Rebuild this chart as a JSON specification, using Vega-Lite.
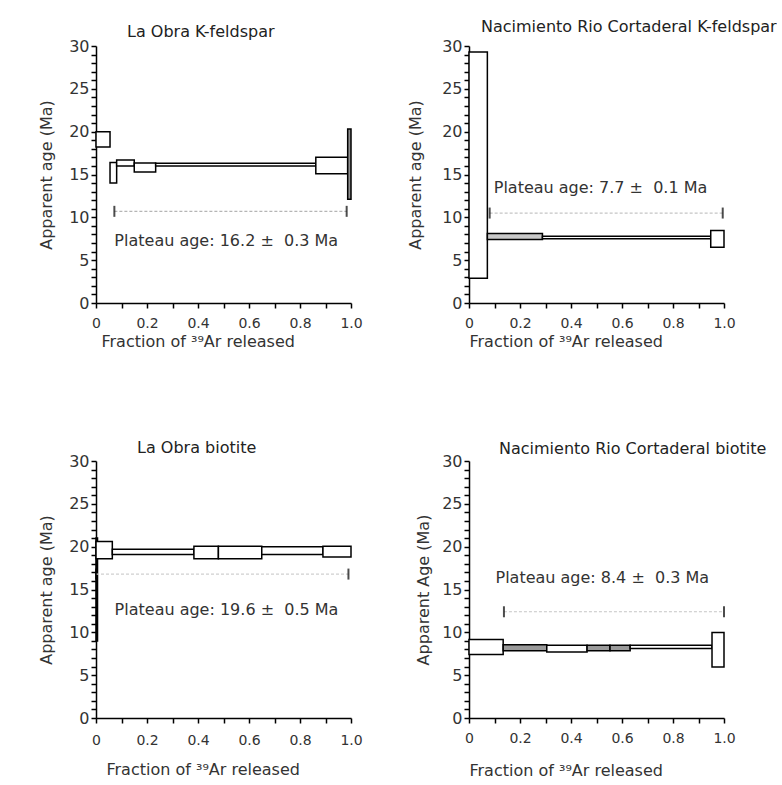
{
  "$schema": "https://vega.github.io/schema/vega-lite/v6.json",
  "padding": {"left": 38, "top": 19, "right": 0, "bottom": 0},
  "background": "white",
  "datasets": {
    "steps": [
      {"panel": "A", "f0": 0.0, "f1": 0.055, "lo": 18.2, "hi": 20.0, "shade": "open"},
      {"panel": "A", "f0": 0.055, "f1": 0.081, "lo": 14.0, "hi": 16.4, "shade": "open"},
      {"panel": "A", "f0": 0.081, "f1": 0.15, "lo": 16.0, "hi": 16.7, "shade": "open"},
      {"panel": "A", "f0": 0.15, "f1": 0.234, "lo": 15.3, "hi": 16.35, "shade": "open"},
      {"panel": "A", "f0": 0.234, "f1": 0.862, "lo": 16.0, "hi": 16.3, "shade": "open"},
      {"panel": "A", "f0": 0.862, "f1": 0.987, "lo": 15.1, "hi": 17.0, "shade": "open"},
      {"panel": "A", "f0": 0.987, "f1": 1.0, "lo": 12.1, "hi": 20.3, "shade": "shaded"},
      {"panel": "B", "f0": 0.0, "f1": 0.072, "lo": 2.9, "hi": 29.3, "shade": "open"},
      {"panel": "B", "f0": 0.072, "f1": 0.288, "lo": 7.4, "hi": 8.1, "shade": "shaded"},
      {"panel": "B", "f0": 0.288, "f1": 0.948, "lo": 7.5, "hi": 7.8, "shade": "open"},
      {"panel": "B", "f0": 0.948, "f1": 1.0, "lo": 6.5, "hi": 8.45, "shade": "open"},
      {"panel": "C", "f0": 0.0, "f1": 0.006, "lo": 9.0, "hi": 21.0, "shade": "shaded"},
      {"panel": "C", "f0": 0.0, "f1": 0.064, "lo": 18.6, "hi": 20.6, "shade": "open"},
      {"panel": "C", "f0": 0.064, "f1": 0.384, "lo": 19.1, "hi": 19.7, "shade": "open"},
      {"panel": "C", "f0": 0.384, "f1": 0.48, "lo": 18.6, "hi": 20.05, "shade": "open"},
      {"panel": "C", "f0": 0.48, "f1": 0.65, "lo": 18.6, "hi": 20.05, "shade": "open"},
      {"panel": "C", "f0": 0.65, "f1": 0.89, "lo": 19.1, "hi": 20.0, "shade": "open"},
      {"panel": "C", "f0": 0.89, "f1": 1.0, "lo": 18.8, "hi": 20.05, "shade": "open"},
      {"panel": "D", "f0": 0.0, "f1": 0.134, "lo": 7.4, "hi": 9.15, "shade": "open"},
      {"panel": "D", "f0": 0.134, "f1": 0.305, "lo": 7.85, "hi": 8.55, "shade": "shaded"},
      {"panel": "D", "f0": 0.305, "f1": 0.463, "lo": 7.7, "hi": 8.5, "shade": "open"},
      {"panel": "D", "f0": 0.463, "f1": 0.553, "lo": 7.85, "hi": 8.5, "shade": "shaded"},
      {"panel": "D", "f0": 0.553, "f1": 0.632, "lo": 7.85, "hi": 8.5, "shade": "shaded"},
      {"panel": "D", "f0": 0.632, "f1": 0.953, "lo": 8.1, "hi": 8.5, "shade": "open"},
      {"panel": "D", "f0": 0.953, "f1": 1.0, "lo": 5.96, "hi": 9.97, "shade": "open"}
    ],
    "plateaus": [
      {"panel": "A", "x0": 0.072, "x1": 0.983, "age": 10.7, "label": "Plateau age: 16.2 ± \u00a00.3 Ma", "lx": 0.072, "ly": 7.2},
      {"panel": "B", "x0": 0.081, "x1": 0.995, "age": 10.5, "label": "Plateau age: 7.7 ± \u00a00.1 Ma", "lx": 0.097, "ly": 13.4},
      {"panel": "C", "x0": 0.0, "x1": 0.99, "age": 16.8, "label": "Plateau age: 19.6 ± \u00a00.5 Ma", "lx": 0.073, "ly": 12.6},
      {"panel": "D", "x0": 0.137, "x1": 1.0, "age": 12.4, "label": "Plateau age: 8.4 ± \u00a00.3 Ma", "lx": 0.104, "ly": 16.3}
    ]
  },
  "columns": 2,
  "bounds": "flush",
  "spacing": {"row": 158, "column": 118},
  "concat": [
    {
      "width": 255, "height": 257,
      "title": {"text": "La Obra K-feldspar", "dx": 31, "offset": -2},
      "layer": [
        {
          "data": {"name": "steps"},
          "transform": [{"filter": "datum.panel === 'A'"}],
          "mark": {"type": "rect", "stroke": "black", "strokeWidth": 1.5},
          "encoding": {
            "x": {"field": "f0", "type": "quantitative", "scale": {"domain": [0, 1], "nice": false},
              "axis": {"title": "Fraction of ³⁹Ar released", "values": [0, 0.1, 0.2, 0.3, 0.4, 0.5, 0.6, 0.7, 0.8, 0.9, 1.0], "tickCount": 50,
                "labelExpr": "datum.value === 0 ? '0' : (round(datum.value*10) % 2 === 0 ? format(datum.value, '.1f') : '')",
                "labelOverlap": false, "labelFlush": false, "labelPadding": 8, "titleAnchor": "start", "titleX": 5, "titleAlign": "left", "titlePadding": 3}},
            "x2": {"field": "f1"},
            "y": {"field": "lo", "type": "quantitative", "scale": {"domain": [0, 30], "nice": false},
              "axis": {"title": "Apparent age (Ma)", "values": [0,1,2,3,4,5,6,7,8,9,10,11,12,13,14,15,16,17,18,19,20,21,22,23,24,25,26,27,28,29,30], "tickCount": 100,
                "labelExpr": "datum.value % 5 === 0 ? format(datum.value, 'd') : ''",
                "labelOverlap": false, "labelFlush": false, "labelPadding": 2, "titlePadding": 14}},
            "y2": {"field": "hi"},
            "fill": {"field": "shade", "type": "nominal", "scale": {"domain": ["open", "shaded"], "range": ["white", "#8f8f8f"]}, "legend": null}
          }
        },
        {
          "data": {"name": "plateaus"},
          "transform": [{"filter": "datum.panel === 'A'"}],
          "mark": {"type": "rule", "color": "#b5b5b5", "strokeWidth": 1.2, "strokeDash": [3, 2]},
          "encoding": {"x": {"field": "x0", "type": "quantitative"}, "x2": {"field": "x1"}, "y": {"field": "age", "type": "quantitative"}}
        },
        {
          "data": {"name": "plateaus"},
          "transform": [{"filter": "datum.panel === 'A'"}, {"fold": ["x0", "x1"], "as": ["end", "xe"]}],
          "mark": {"type": "tick", "orient": "vertical", "color": "black", "size": 11, "thickness": 2},
          "encoding": {"x": {"field": "xe", "type": "quantitative"}, "y": {"field": "age", "type": "quantitative"}}
        },
        {
          "data": {"name": "plateaus"},
          "transform": [{"filter": "datum.panel === 'A'"}],
          "mark": {"type": "text", "align": "left", "baseline": "middle", "fontSize": 16, "color": "#333"},
          "encoding": {"x": {"field": "lx", "type": "quantitative"}, "y": {"field": "ly", "type": "quantitative"}, "text": {"field": "label"}}
        }
      ]
    },
    {
      "width": 255, "height": 257,
      "title": {"text": "Nacimiento Rio Cortaderal K-feldspar", "dx": 12, "offset": 3},
      "layer": [
        {
          "data": {"name": "steps"},
          "transform": [{"filter": "datum.panel === 'B'"}],
          "mark": {"type": "rect", "stroke": "black", "strokeWidth": 1.5},
          "encoding": {
            "x": {"field": "f0", "type": "quantitative", "scale": {"domain": [0, 1], "nice": false},
              "axis": {"title": "Fraction of ³⁹Ar released", "values": [0, 0.1, 0.2, 0.3, 0.4, 0.5, 0.6, 0.7, 0.8, 0.9, 1.0], "tickCount": 50,
                "labelExpr": "datum.value === 0 ? '0' : (round(datum.value*10) % 2 === 0 ? format(datum.value, '.1f') : '')",
                "labelOverlap": false, "labelFlush": false, "labelPadding": 8, "titleAnchor": "start", "titleX": 0, "titleAlign": "left", "titlePadding": 3}},
            "x2": {"field": "f1"},
            "y": {"field": "lo", "type": "quantitative", "scale": {"domain": [0, 30], "nice": false},
              "axis": {"title": "Apparent age (Ma)", "values": [0,1,2,3,4,5,6,7,8,9,10,11,12,13,14,15,16,17,18,19,20,21,22,23,24,25,26,27,28,29,30], "tickCount": 100,
                "labelExpr": "datum.value % 5 === 0 ? format(datum.value, 'd') : ''",
                "labelOverlap": false, "labelFlush": false, "labelPadding": 2, "titlePadding": 18}},
            "y2": {"field": "hi"},
            "fill": {"field": "shade", "type": "nominal", "scale": {"domain": ["open", "shaded"], "range": ["white", "#c8c8c8"]}, "legend": null}
          }
        },
        {
          "data": {"name": "plateaus"},
          "transform": [{"filter": "datum.panel === 'B'"}],
          "mark": {"type": "rule", "color": "#c5c5c5", "strokeWidth": 1.2, "strokeDash": [3, 2]},
          "encoding": {"x": {"field": "x0", "type": "quantitative"}, "x2": {"field": "x1"}, "y": {"field": "age", "type": "quantitative"}}
        },
        {
          "data": {"name": "plateaus"},
          "transform": [{"filter": "datum.panel === 'B'"}, {"fold": ["x0", "x1"], "as": ["end", "xe"]}],
          "mark": {"type": "tick", "orient": "vertical", "color": "black", "size": 11, "thickness": 2},
          "encoding": {"x": {"field": "xe", "type": "quantitative"}, "y": {"field": "age", "type": "quantitative"}}
        },
        {
          "data": {"name": "plateaus"},
          "transform": [{"filter": "datum.panel === 'B'"}],
          "mark": {"type": "text", "align": "left", "baseline": "middle", "fontSize": 16, "color": "#333"},
          "encoding": {"x": {"field": "lx", "type": "quantitative"}, "y": {"field": "ly", "type": "quantitative"}, "text": {"field": "label"}}
        }
      ]
    },
    {
      "width": 255, "height": 257,
      "title": {"text": "La Obra biotite", "dx": 41, "offset": -3},
      "layer": [
        {
          "data": {"name": "steps"},
          "transform": [{"filter": "datum.panel === 'C'"}],
          "mark": {"type": "rect", "stroke": "black", "strokeWidth": 1.5},
          "encoding": {
            "x": {"field": "f0", "type": "quantitative", "scale": {"domain": [0, 1], "nice": false},
              "axis": {"title": "Fraction of ³⁹Ar released", "values": [0, 0.1, 0.2, 0.3, 0.4, 0.5, 0.6, 0.7, 0.8, 0.9, 1.0], "tickCount": 50,
                "labelExpr": "datum.value === 0 ? '0' : (round(datum.value*10) % 2 === 0 ? format(datum.value, '.1f') : '')",
                "labelOverlap": false, "labelFlush": false, "labelPadding": 10, "titleAnchor": "start", "titleX": 10, "titleAlign": "left", "titlePadding": 14}},
            "x2": {"field": "f1"},
            "y": {"field": "lo", "type": "quantitative", "scale": {"domain": [0, 30], "nice": false},
              "axis": {"title": "Apparent age (Ma)", "values": [0,1,2,3,4,5,6,7,8,9,10,11,12,13,14,15,16,17,18,19,20,21,22,23,24,25,26,27,28,29,30], "tickCount": 100,
                "labelExpr": "datum.value % 5 === 0 ? format(datum.value, 'd') : ''",
                "labelOverlap": false, "labelFlush": false, "labelPadding": 2, "titlePadding": 14}},
            "y2": {"field": "hi"},
            "fill": {"field": "shade", "type": "nominal", "scale": {"domain": ["open", "shaded"], "range": ["white", "#000000"]}, "legend": null}
          }
        },
        {
          "data": {"name": "plateaus"},
          "transform": [{"filter": "datum.panel === 'C'"}],
          "mark": {"type": "rule", "color": "#d0d0d0", "strokeWidth": 1.2, "strokeDash": [3, 2]},
          "encoding": {"x": {"field": "x0", "type": "quantitative"}, "x2": {"field": "x1"}, "y": {"field": "age", "type": "quantitative"}}
        },
        {
          "data": {"name": "plateaus"},
          "transform": [{"filter": "datum.panel === 'C'"}, {"fold": ["x0", "x1"], "as": ["end", "xe"]}],
          "mark": {"type": "tick", "orient": "vertical", "color": "black", "size": 11, "thickness": 2},
          "encoding": {"x": {"field": "xe", "type": "quantitative"}, "y": {"field": "age", "type": "quantitative"}}
        },
        {
          "data": {"name": "plateaus"},
          "transform": [{"filter": "datum.panel === 'C'"}],
          "mark": {"type": "text", "align": "left", "baseline": "middle", "fontSize": 16, "color": "#333"},
          "encoding": {"x": {"field": "lx", "type": "quantitative"}, "y": {"field": "ly", "type": "quantitative"}, "text": {"field": "label"}}
        }
      ]
    },
    {
      "width": 255, "height": 257,
      "title": {"text": "Nacimiento Rio Cortaderal biotite", "dx": 30, "offset": -4},
      "layer": [
        {
          "data": {"name": "steps"},
          "transform": [{"filter": "datum.panel === 'D'"}],
          "mark": {"type": "rect", "stroke": "black", "strokeWidth": 1.5},
          "encoding": {
            "x": {"field": "f0", "type": "quantitative", "scale": {"domain": [0, 1], "nice": false},
              "axis": {"title": "Fraction of ³⁹Ar released", "values": [0, 0.1, 0.2, 0.3, 0.4, 0.5, 0.6, 0.7, 0.8, 0.9, 1.0], "tickCount": 50,
                "labelExpr": "datum.value === 0 ? '0' : (round(datum.value*10) % 2 === 0 ? format(datum.value, '.1f') : '')",
                "labelOverlap": false, "labelFlush": false, "labelPadding": 8, "titleAnchor": "start", "titleX": 0, "titleAlign": "left", "titlePadding": 17}},
            "x2": {"field": "f1"},
            "y": {"field": "lo", "type": "quantitative", "scale": {"domain": [0, 30], "nice": false},
              "axis": {"title": "Apparent Age (Ma)", "values": [0,1,2,3,4,5,6,7,8,9,10,11,12,13,14,15,16,17,18,19,20,21,22,23,24,25,26,27,28,29,30], "tickCount": 100,
                "labelExpr": "datum.value % 5 === 0 ? format(datum.value, 'd') : ''",
                "labelOverlap": false, "labelFlush": false, "labelPadding": 2, "titlePadding": 10}},
            "y2": {"field": "hi"},
            "fill": {"field": "shade", "type": "nominal", "scale": {"domain": ["open", "shaded"], "range": ["white", "#9a9a9a"]}, "legend": null}
          }
        },
        {
          "data": {"name": "plateaus"},
          "transform": [{"filter": "datum.panel === 'D'"}],
          "mark": {"type": "rule", "color": "#c5c5c5", "strokeWidth": 1.2, "strokeDash": [3, 2]},
          "encoding": {"x": {"field": "x0", "type": "quantitative"}, "x2": {"field": "x1"}, "y": {"field": "age", "type": "quantitative"}}
        },
        {
          "data": {"name": "plateaus"},
          "transform": [{"filter": "datum.panel === 'D'"}, {"fold": ["x0", "x1"], "as": ["end", "xe"]}],
          "mark": {"type": "tick", "orient": "vertical", "color": "black", "size": 11, "thickness": 2},
          "encoding": {"x": {"field": "xe", "type": "quantitative"}, "y": {"field": "age", "type": "quantitative"}}
        },
        {
          "data": {"name": "plateaus"},
          "transform": [{"filter": "datum.panel === 'D'"}],
          "mark": {"type": "text", "align": "left", "baseline": "middle", "fontSize": 16, "color": "#333"},
          "encoding": {"x": {"field": "lx", "type": "quantitative"}, "y": {"field": "ly", "type": "quantitative"}, "text": {"field": "label"}}
        }
      ]
    }
  ],
  "resolve": {"scale": {"fill": "independent"}},
  "config": {
    "font": "DejaVu Sans",
    "view": {"stroke": null},
    "axis": {"grid": false, "domainColor": "black", "domainWidth": 1.5, "tickColor": "black", "tickWidth": 1.5, "tickSize": 5,
      "labelColor": "#333", "titleColor": "#333", "labelFont": "DejaVu Sans", "titleFont": "DejaVu Sans",
      "titleFontWeight": "normal", "titleFontSize": 16},
    "axisY": {"labelFontSize": 16},
    "axisX": {"labelFontSize": 14},
    "title": {"font": "DejaVu Sans", "fontSize": 16, "fontWeight": "normal", "color": "#222", "anchor": "start", "frame": "group"}
  }
}
